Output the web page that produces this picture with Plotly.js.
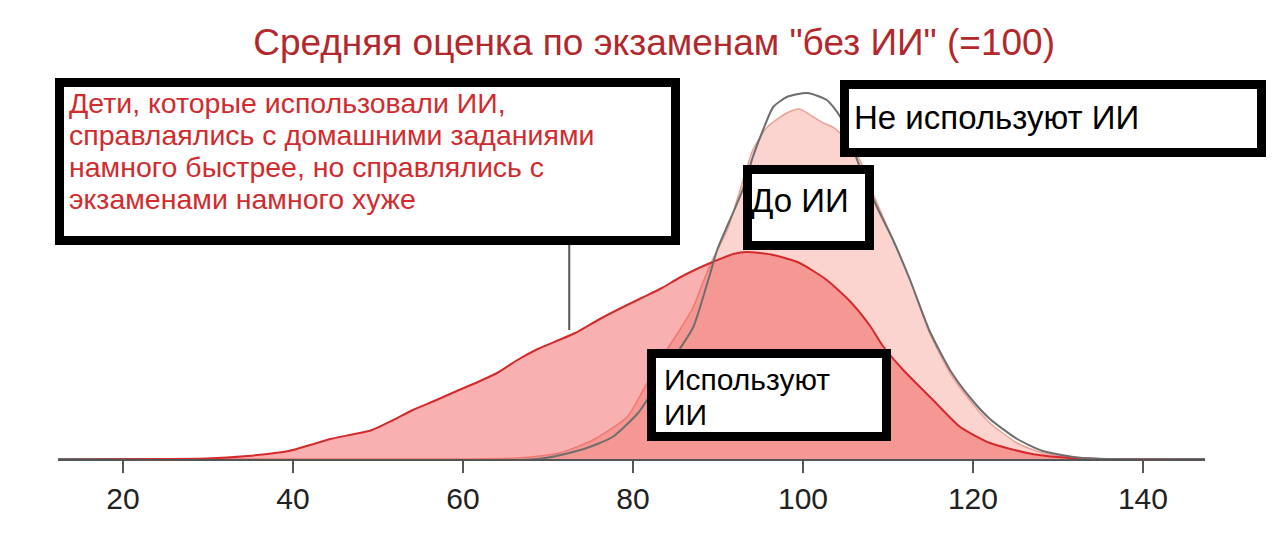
<!DOCTYPE html>
<html>
<head>
<meta charset="utf-8">
<script src="https://cdn.plot.ly/plotly-3.0.1.min.js"></script>
<style>
  html, body { margin: 0; padding: 0; background: #fff; }
  #chart { width: 1280px; height: 543px; }
</style>
</head>
<body>
<div id="chart"></div>
<script>
// scores (x) and relative density
var beforeX = [12, 60, 66.4, 71.3, 75.3, 79.3, 81.2, 83.2, 85.5, 87.1, 88.2, 89.4, 91.1, 92.6, 94.1, 95.8, 98.1, 99.6, 101.2, 102.4, 103.5, 105.2, 106.7, 108.2, 110.6, 112.6, 114.9, 117.3, 119.6, 122, 125.2, 128.2, 132.9, 137.3, 148];
var beforeY = [0, 0, 1, 6, 19, 42, 69, 99, 129, 152, 176, 200, 229, 269, 309, 332, 346, 350, 342, 336, 332, 319, 299, 266, 219, 179, 126, 86, 59, 36, 16, 6, 1, 0, 0];

var aiX = [12, 22, 29.8, 34.6, 39.5, 42, 44.4, 49.3, 51.8, 54.1, 56.6, 59, 62, 64, 66.4, 68.8, 71.3, 73.2, 76.1, 78.6, 81, 83.4, 85.4, 87.5, 89.1, 91.8, 93.4, 96.5, 99.6, 102.8, 105.5, 107.9, 109.4, 111.8, 115.3, 118.5, 122, 126.4, 129.9, 135, 148];
var aiY = [0, 0, 0.5, 3, 8, 14, 20, 29, 39, 49, 58, 67, 78, 86, 99, 110, 119, 126, 140, 151, 161, 171, 181, 190, 196, 205, 207, 204, 196, 179, 158, 133, 113, 89, 59, 32, 16, 6, 2, 0, 0];

var noAiX = [12, 68.8, 73.8, 76.1, 77.6, 80.6, 83.2, 85.5, 87.1, 89.1, 89.9, 92.9, 94.1, 95.3, 96.5, 98.1, 100.5, 102.8, 104.4, 106.7, 108.7, 110.6, 112.6, 114.9, 117.3, 119.6, 122, 125.2, 128.2, 132.9, 148];
var noAiY = [0, 0, 9, 16, 22, 46, 80, 110, 132, 186, 209, 269, 302, 329, 352, 362, 366, 359, 342, 292, 252, 219, 179, 128, 89, 62, 40, 20, 8, 1, 0];

var tickVals = [20, 40, 60, 80, 100, 120, 140];

var titleText = 'Средняя оценка по экзаменам "без ИИ" (=100)';
var noteLines = [
  'Дети, которые использовали ИИ,',
  'справлаялись с домашними заданиями',
  'намного быстрее, но справлялись с',
  'экзаменами намного хуже'
];
var aiLines = ['Используют', 'ИИ'];

// plot area in pixels: x 58..1205, y 60..459
function px(x) { return (x - 58) / 1147; }
function py(y) { return (459 - y) / 399; }

var before = {
  x: beforeX, y: beforeY,
  type: 'scatter', mode: 'lines',
  fill: 'tozeroy', fillcolor: '#fbd4cf',
  line: {color: '#eba197', width: 1.5, shape: 'spline', smoothing: 0.6},
  hoverinfo: 'none'
};
var ai = {
  x: aiX, y: aiY,
  type: 'scatter', mode: 'lines',
  fill: 'tozeroy', fillcolor: 'rgba(237,60,58,0.4)',
  line: {color: '#d42a2c', width: 2, shape: 'spline', smoothing: 0.6},
  hoverinfo: 'none'
};
var noAi = {
  x: noAiX, y: noAiY,
  type: 'scatter', mode: 'lines',
  line: {color: '#6e6e6e', width: 2, shape: 'spline', smoothing: 0.6},
  hoverinfo: 'none'
};

function box(x0, y0, x1, y1) {
  var h = 4.5;
  return {
    type: 'rect', xref: 'paper', yref: 'paper', layer: 'above',
    x0: px(x0 + h), x1: px(x1 - h), y0: py(y1 - h), y1: py(y0 + h),
    fillcolor: '#ffffff',
    line: {color: '#000000', width: 9}
  };
}

function label(text, x, y, size, color) {
  return {
    xref: 'paper', yref: 'paper', x: px(x), y: py(y),
    xanchor: 'left', yanchor: 'middle', align: 'left',
    showarrow: false, text: text, borderpad: 0,
    font: {size: size, color: color}
  };
}

var annotations = [];
noteLines.forEach(function (t, i) {
  annotations.push(label(t, 68, 103 + i * 32, 28.5, '#d12b2e'));
});
annotations.push(label('Не используют ИИ', 853, 117, 33, '#000'));
annotations.push(label('До ИИ', 750, 200, 33, '#000'));
aiLines.forEach(function (t, i) {
  annotations.push(label(t, 663, 379 + i * 35, 30, '#000'));
});

var layout = {
  width: 1280,
  height: 543,
  margin: {l: 58, r: 75, t: 60, b: 84},
  paper_bgcolor: '#ffffff',
  plot_bgcolor: '#ffffff',
  font: {family: 'Liberation Sans, Arial, sans-serif'},
  showlegend: false,
  title: {
    text: titleText,
    font: {size: 37, color: '#b3282c'},
    x: 0.511, xanchor: 'center',
    y: 1 - 42 / 543, yanchor: 'middle'
  },
  xaxis: {
    range: [12.35, 147.3],
    tickvals: tickVals,
    ticktext: tickVals.map(String),
    ticks: 'outside', ticklen: 12, tickwidth: 2, tickcolor: '#555',
    showline: true, linecolor: '#555', linewidth: 2,
    showgrid: false, zeroline: false,
    tickfont: {family: 'Liberation Sans Narrow, Arial Narrow, Liberation Sans, sans-serif', size: 30, color: '#222'}
  },
  yaxis: {
    range: [0, 399],
    visible: false,
    fixedrange: true
  },
  shapes: [
    {type: 'line', xref: 'x', yref: 'y', x0: 72.5, x1: 72.5, y0: 129, y1: 214,
     line: {color: '#555', width: 2}},
    box(55, 78, 680, 245),
    box(840, 80, 1266, 157),
    box(743, 165, 874, 250),
    box(647, 349, 891, 441)
  ],
  annotations: annotations
};

var config = {responsive: false, displayModeBar: false, staticPlot: true};

Plotly.newPlot('chart', [before, ai, noAi], layout, config);
</script>
</body>
</html>
